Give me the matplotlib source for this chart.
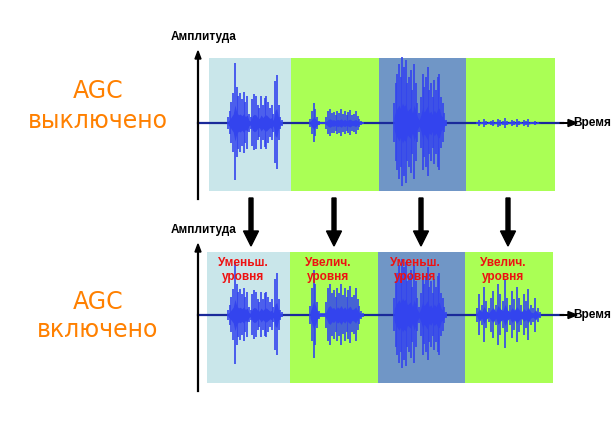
import matplotlib.pyplot as plt
from matplotlib.patches import Rectangle, FancyArrow

# segment shading (light blue, green, dark blue, green)
seg_colors = ['#c9e6ea', '#aaff55', '#7096c6', '#aaff55']
seg_edges_off = [209, 291, 379, 466, 555]
seg_edges_on = [207, 290, 378, 465, 553]

# normalised spike envelopes of the four speech bursts
burst1 = [0.1, 0.2, 0.35, 0.5, 1.0, 0.6, 0.45, 0.5, 0.4, 0.52, 0.35, 0.45, 0.15, 0.1,
          0.4, 0.48, 0.45, 0.3, 0.25, 0.45, 0.3, 0.42, 0.45, 0.35, 0.25, 0.3, 0.15,
          0.7, 0.8, 0.3, 0.1, 0.05]
burst2 = [0.2, 0.6, 1.0, 0.7, 0.3, 0.1, 0.05, 0.05, 0.05, 0.3, 0.6, 0.7, 0.5, 0.55,
          0.4, 0.6, 0.5, 0.7, 0.45, 0.6, 0.4, 0.55, 0.65, 0.4, 0.45, 0.6, 0.35, 0.2,
          0.1, 0.05]
burst3 = [0.3, 0.6, 0.75, 0.9, 0.7, 1.0, 0.85, 0.95, 0.6, 0.7, 0.8, 0.5, 0.9, 0.6,
          0.3, 0.15, 0.4, 0.75, 0.55, 0.7, 0.85, 0.5, 0.6, 0.4, 0.65, 0.5, 0.7, 0.75,
          0.4, 0.3, 0.15, 0.05]
burst4 = [0.2, 0.6, 0.3, 0.8, 0.4, 0.2, 0.5, 0.7, 0.3, 0.9, 0.6, 0.4, 1.0, 0.5, 0.3,
          0.7, 0.45, 0.8, 0.5, 0.3, 0.6, 0.4, 0.75, 0.3, 0.2, 0.5, 0.2, 0.1]
bursts = [burst1, burst2, burst3, burst4]
burst_start = [228, 310, 394, 477]
burst_end = [282, 363, 446, 540]

# peak amplitude of each burst (px) without / with AGC
peak_off = [60, 20, 66, 5]
peak_on = [52, 45, 56, 35]

labels_on = ['Уменьш.\nуровня', 'Увелич.\nуровня', 'Уменьш.\nуровня', 'Увелич.\nуровня']
label_x = [243, 328, 415, 503]
arrow_x = [251, 334, 421, 508]

wave_color = '#3344ee'
orange = '#ff8000'

fig = plt.figure(figsize=(6.14, 4.38), dpi=100)
ax = fig.add_axes([0, 0, 1, 1])
ax.set_xlim(0, 614)
ax.set_ylim(438, 0)
ax.axis('off')


def panel(edges, top, bottom, base, peaks, ytop):
    for i, c in enumerate(seg_colors):
        ax.add_patch(Rectangle((edges[i], top), edges[i + 1] - edges[i], bottom - top,
                               color=c, lw=0, zorder=1))
    # time axis
    ax.plot([198, 563], [base, base], color='#1a2a9a', lw=1.6, zorder=3)
    ax.add_patch(FancyArrow(560, base, 8, 0, width=0.5, head_width=7, head_length=9,
                            color='black', length_includes_head=False, zorder=4))
    ax.text(573, base, 'Время', fontsize=8.5, fontweight='bold', va='center',
            ha='left', family='Liberation Sans')
    # amplitude axis
    ax.plot([198, 198], [bottom + 8, ytop + 6], color='black', lw=1.6, zorder=4)
    ax.add_patch(FancyArrow(198, ytop + 8, 0, -1, width=0.5, head_width=6,
                            head_length=8, color='black', zorder=4))
    ax.text(204, ytop - 15, 'Амплитуда', fontsize=8.5, fontweight='bold',
            ha='center', va='center', family='Liberation Sans')
    # waveform bursts
    for b, x0, x1, pk in zip(bursts, burst_start, burst_end, peaks):
        n = len(b)
        xs = [x0 + (x1 - x0) * k / (n - 1) for k in range(n)]
        hs = [v * pk for v in b]
        ax.vlines(xs, [base - h for h in hs], [base + h * 0.95 for h in hs],
                  color=wave_color, lw=1.2, zorder=3)
        ax.fill_between(xs, [base - h * 0.3 for h in hs], [base + h * 0.3 for h in hs],
                        color=wave_color, lw=0, zorder=3)


panel(seg_edges_off, 58, 191, 123, peak_off, 52)
panel(seg_edges_on, 252, 383, 315, peak_on, 245)

for x, t in zip(label_x, labels_on):
    ax.text(x, 270, t, color='#ee1111', fontsize=8.5, fontweight='bold', ha='center',
            va='center', family='Liberation Sans', linespacing=1.2, zorder=5)

for x in arrow_x:
    ax.add_patch(FancyArrow(x, 198, 0, 33, width=4, head_width=15, head_length=15,
                            color='black', length_includes_head=False, zorder=5))

ax.text(98, 91, 'AGC', color=orange, fontsize=17, ha='center', va='center',
        family='DejaVu Sans')
ax.text(98, 121, 'выключено', color=orange, fontsize=17, ha='center', va='center',
        family='DejaVu Sans')
ax.text(98, 302, 'AGC', color=orange, fontsize=17, ha='center', va='center',
        family='DejaVu Sans')
ax.text(98, 330, 'включено', color=orange, fontsize=17, ha='center', va='center',
        family='DejaVu Sans')

fig.savefig('out.png', dpi=100)
